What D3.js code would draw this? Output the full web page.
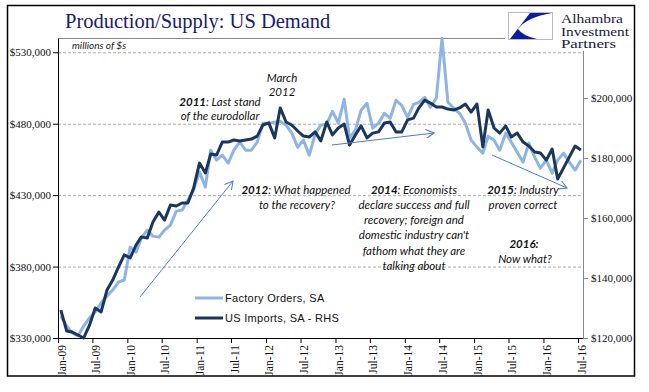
<!DOCTYPE html>
<html><head><meta charset="utf-8">
<script src="https://cdn.jsdelivr.net/npm/d3@7"></script>
<style>
html,body{margin:0;padding:0;background:#fff;}
svg{display:block;}
</style></head>
<body>
<svg id="chart" width="649" height="392"></svg>
<script>
// ---------------- DATA ----------------
const startMonth = new Date(2009, 0, 1);
const endMonth = new Date(2016, 6, 1);
const seriesNames = ["Factory Orders, SA", "US Imports, SA - RHS"];
// Factory orders, SA (millions of $) – left axis
const factoryOrders = [345400,338400,333500,331400,338400,344000,348200,354500,359400,363600,
369200,370600,393600,390100,399900,405500,401300,400600,405500,409000,
418800,419500,426500,433500,446100,435600,461500,454500,458000,452400,
461500,467100,461500,461500,467100,480400,480400,481000,481700,479000,
473400,463600,468500,458000,472700,479000,479700,488700,480400,497100,
469900,475500,489400,494300,476900,480400,487300,483800,496400,492900,
484500,493600,495000,498500,491500,497800,539800,495000,490800,487300,
480400,468500,463600,459400,471300,468500,461500,473400,467100,460100,
453100,466400,456600,448900,454500,445400,454500,459400,453100,447500,454500];
// US imports, SA (millions of $) – right axis
const usImports = [129300,122300,122000,121000,120000,124300,130000,128700,136000,139300,
143700,147700,146700,151000,153700,153300,158700,162000,159300,164300,
164000,165000,165000,170000,178300,175000,181300,181000,185300,185300,
186000,185700,186000,186300,187300,191000,191700,186700,196700,192000,
191000,189000,187300,187000,188700,185700,192000,187700,190000,191300,
184300,187700,190700,186700,188300,188700,191700,192000,188700,188700,
192700,193300,196700,199300,198300,197000,197000,196300,196000,196700,
198000,195300,198000,183700,196000,190000,188300,190700,187000,188300,
185300,184000,182000,181700,179300,183000,173000,176700,180300,184000,182700];
const leftTicks = [330000,380000,430000,480000,530000];
const rightTicks = [120000,140000,160000,180000,200000];
const leftDomain = [330000, 540000];
const rightDomain = [120000, 220000];

// ---------------- LAYOUT ----------------
const L = 58, R = 583, T = 38, B = 338;
const svg = d3.select("#chart");
const months = d3.timeMonth.range(startMonth, d3.timeMonth.offset(endMonth, 1));
const dates = months.map(m => d3.timeDay.offset(m, 15));

const x = d3.scaleTime().domain([startMonth, endMonth]).range([L, 578]);
const yL = d3.scaleLinear().domain(leftDomain).range([B, T]);
const yR = d3.scaleLinear().domain(rightDomain).range([B, T]);

// outer border
svg.append("rect").attr("x",7.5).attr("y",5.5).attr("width",627).attr("height",370.5)
  .attr("fill","none").attr("stroke","#000").attr("stroke-width",1.5);

// gridlines
svg.append("g").selectAll("line").data(leftTicks.filter(v=>v>leftDomain[0])).join("line")
  .attr("x1",L).attr("x2",R).attr("y1",d=>yL(d)+0.5).attr("y2",d=>yL(d)+0.5)
  .attr("stroke","#aaa").attr("stroke-dasharray","3,2").attr("stroke-width",1);

// top plot border
svg.append("line").attr("x1",L).attr("x2",R).attr("y1",T+0.5).attr("y2",T+0.5)
  .attr("stroke","#888").attr("stroke-width",1);

// title
svg.append("text").attr("x",65).attr("y",28).attr("font-family","Liberation Serif, serif")
  .attr("font-size",20.5).attr("fill","#1b1b6e").text("Production/Supply: US Demand");

// unit label
svg.append("text").attr("x",72).attr("y",49).attr("font-family","Lato, sans-serif")
  .attr("font-style","italic").attr("font-size",10).attr("fill","#222").text("millions of $s");

// axes
const fmt = d => "$" + d3.format(",")(d);
const gL = svg.append("g").attr("transform",`translate(${L},0)`)
  .call(d3.axisLeft(yL).tickValues(leftTicks).tickFormat(fmt).tickSize(5).tickSizeOuter(0).tickPadding(2));
gL.select(".domain").attr("stroke","#000");
gL.selectAll("text").attr("font-family","Liberation Serif, serif").attr("font-size",11).attr("fill","#111");

const gR = svg.append("g").attr("transform",`translate(${R},0)`)
  .call(d3.axisRight(yR).tickValues(rightTicks).tickFormat(fmt).tickSize(5).tickSizeOuter(0).tickPadding(3));
gR.select(".domain").attr("stroke","#888");
gR.selectAll(".tick line").attr("stroke","#888");
gR.selectAll("text").attr("font-family","Liberation Serif, serif").attr("font-size",11).attr("fill","#111");

const gB = svg.append("g").attr("transform",`translate(0,${B})`)
  .call(d3.axisBottom(x).ticks(d3.timeMonth.every(6)).tickFormat(d3.timeFormat("%b-%y")).tickSize(5).tickSizeOuter(0));
gB.select(".domain").remove();
gB.append("line").attr("x1",L).attr("x2",R).attr("y1",0.5).attr("y2",0.5).attr("stroke","#000");
gB.selectAll(".tick line").attr("stroke","#000");
gB.selectAll(".tick text").attr("font-family","Liberation Serif, serif").attr("font-size",11.5).attr("fill","#111")
  .attr("text-anchor","end").attr("x",-7).attr("y",3).attr("dy","0.35em")
  .attr("transform","rotate(-90)");

// lines
const lineL = d3.line().x((d,i)=>x(dates[i])).y(d=>yL(d));
const lineR = d3.line().x((d,i)=>x(dates[i])).y(d=>yR(d));
svg.append("path").datum(factoryOrders).attr("d",lineL).attr("fill","none")
  .attr("stroke","#8db4e2").attr("stroke-width",3).attr("stroke-linejoin","round");
svg.append("path").datum(usImports).attr("d",lineR).attr("fill","none")
  .attr("stroke","#1b365d").attr("stroke-width",3).attr("stroke-linejoin","round");

// arrows
const defs = svg.append("defs");
defs.append("marker").attr("id","arr").attr("viewBox","0 0 10 10").attr("refX",9).attr("refY",5)
  .attr("markerWidth",9).attr("markerHeight",9).attr("orient","auto").attr("markerUnits","userSpaceOnUse")
  .append("path").attr("d","M0,0 L9,5 L0,10").attr("fill","none").attr("stroke","#4f7fba").attr("stroke-width",1.2);
const arrows = [[140,297,233,181],[332,145,434,133],[492,155,567,188]];
svg.append("g").selectAll("line").data(arrows).join("line")
  .attr("x1",d=>d[0]).attr("y1",d=>d[1]).attr("x2",d=>d[2]).attr("y2",d=>d[3])
  .attr("stroke","#4f7fba").attr("stroke-width",1).attr("marker-end","url(#arr)");

// annotations
const ann = svg.append("g").attr("font-family","Lato, sans-serif").attr("font-style","italic")
  .attr("font-size",11.5).attr("fill","#111").attr("text-anchor","middle");
function note(cx, y, bold, rest){
  const t = ann.append("text").attr("x",cx).attr("y",y);
  if (bold) t.append("tspan").attr("font-weight","bold").text(bold);
  t.append("tspan").text(rest);
}
note(282,82,"","March");
note(282,96,"","2012");
note(220,106,"2011",": Last stand");
note(220,120,"","of the eurodollar");
note(296,194,"2012",": What happened");
note(297,209,"","to the recovery?");
note(414,194,"2014",": Economists");
note(414,209,"","declare success and full");
note(414,224,"","recovery; foreign and");
note(414,239,"","domestic industry can't");
note(414,255,"","fathom what they are");
note(414,270,"","talking about");
note(523,194,"2015",": Industry");
note(523,209,"","proven correct");
note(524,248,"2016:","");
note(525,263,"","Now what?");

// legend
const leg = svg.append("g");
const legColors = ["#8db4e2","#1b365d"];
seriesNames.forEach((n,i)=>{
  const yy = 298 + i*20;
  leg.append("line").attr("x1",195).attr("x2",223).attr("y1",yy).attr("y2",yy)
    .attr("stroke",legColors[i]).attr("stroke-width",3);
  leg.append("text").attr("x",225).attr("y",yy+4).attr("font-family","Liberation Sans, Arial, sans-serif")
    .attr("font-size",11).attr("fill","#111").attr("letter-spacing",0.3).text(n);
});

// logo
const logo = svg.append("g");
logo.append("rect").attr("x",505).attr("y",7).attr("width",128).attr("height",44).attr("fill","#fff");
logo.append("rect").attr("x",508.5).attr("y",12.5).attr("width",44).attr("height",27)
  .attr("fill","#fff").attr("stroke","#bbb").attr("stroke-width",1);
logo.append("path").attr("d","M530,13 L552,13 Q527,17 518,29 Q523,36 537,39 L510,39 Z").attr("fill","#0b1c9c");
logo.selectAll("text.l").data(["Alhambra","Investment","Partners"]).join("text")
  .attr("x",561).attr("y",(d,i)=>23+i*12.5).attr("font-family","Liberation Serif, serif")
  .attr("font-size",12).attr("textLength",(d,i)=>[62,68,55][i]).attr("lengthAdjust","spacingAndGlyphs")
  .attr("fill","#1a1a3a").text(d=>d);
</script>
</body></html>
